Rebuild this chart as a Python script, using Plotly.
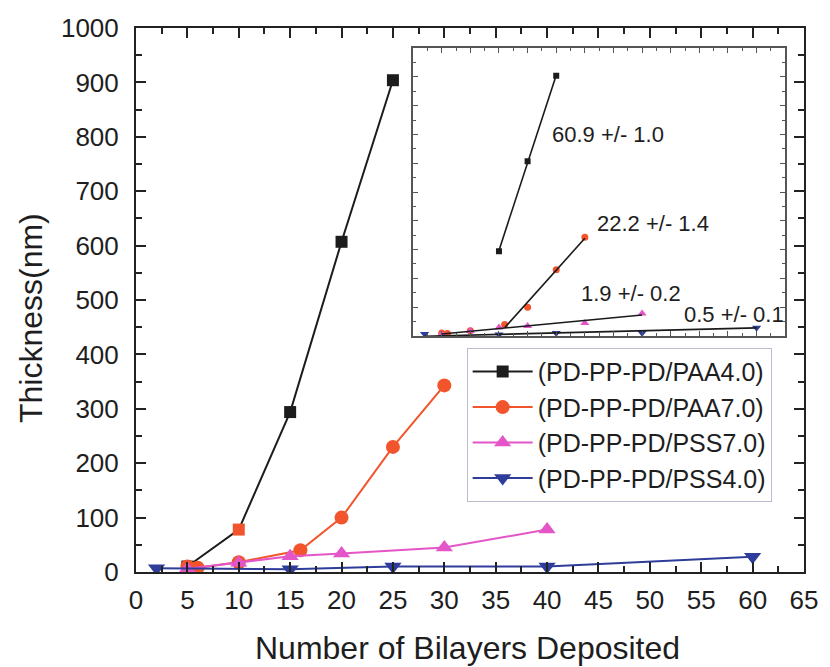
import numpy as np
import plotly.graph_objects as go

# Film thickness (nm) vs. number of bilayers deposited
bilayers_paa40 = [5, 10, 15, 20, 25]
thick_paa40 = [10, 78, 294, 607, 904]

bilayers_paa70 = [5, 6, 10, 16, 20, 25, 30]
thick_paa70 = [10, 8, 18, 40, 100, 230, 343]

bilayers_pss70 = [5, 10, 15, 20, 30, 40]
thick_pss70 = [6, 17, 29, 34, 45, 78]

bilayers_pss40 = [2, 15, 25, 40, 60]
thick_pss40 = [7, 5, 10, 10, 28]

series_names = ["(PD-PP-PD/PAA4.0)", "(PD-PP-PD/PAA7.0)",
                "(PD-PP-PD/PSS7.0)", "(PD-PP-PD/PSS4.0)"]

# Linear growth rates (nm per bilayer) and the bilayer range each fit covers
growth_rates = [60.9, 22.2, 1.9, 0.5]
growth_errors = [1.0, 1.4, 0.2, 0.1]
fit_from = [15, 16, 5, 2]
fit_to = [25, 30, 40, 60]
# first bilayer count shown in the inset for each series
inset_from = [15, 0, 0, 0]

xs = [bilayers_paa40, bilayers_paa70, bilayers_pss70, bilayers_pss40]
ys = [thick_paa40, thick_paa70, thick_pss70, thick_pss40]

colors = ["#1c1c1c", "#f2552c", "#e455c8", "#2e3c9a"]
symbols = ["square", "circle", "triangle-up", "triangle-down"]
main_sizes = [12, 14, 15, 15]
inset_sizes = [6, 7, 8, 8]

FONT = "Liberation Sans, Arial, sans-serif"
TXT = "#1e1e1e"

fig = go.Figure()

# Main panel
for i in range(4):
    mcol = colors[i]
    if i == 0:
        # the 10-bilayer point of this series is drawn in orange
        mcol = [colors[1] if b == 10 else colors[0] for b in xs[i]]
    fig.add_trace(go.Scatter(
        x=xs[i], y=ys[i], name=series_names[i], mode="lines+markers",
        line=dict(color=colors[i], width=2),
        marker=dict(symbol=symbols[i], size=main_sizes[i], color=mcol,
                    line=dict(width=0)),
        xaxis="x", yaxis="y", showlegend=True,
    ))

# Inset: the same data with linear fits
for i in range(4):
    px = [b for b in xs[i] if b >= inset_from[i]]
    py = [t for b, t in zip(xs[i], ys[i]) if b >= inset_from[i]]
    fig.add_trace(go.Scatter(
        x=px, y=py, mode="markers", showlegend=False,
        marker=dict(symbol=symbols[i], size=inset_sizes[i], color=colors[i],
                    line=dict(width=0)),
        xaxis="x2", yaxis="y2",
    ))

annot_pos = [(24.0, 701), (31.8, 389), (28.9, 149), (46.9, 76)]
annotations = []
for i in range(4):
    bx = np.array(xs[i], dtype=float)
    by = np.array(ys[i], dtype=float)
    sel = (bx >= fit_from[i]) & (bx <= fit_to[i])
    xm, ym = bx[sel].mean(), by[sel].mean()
    fx = np.array([fit_from[i], fit_to[i]], dtype=float)
    fy = ym + growth_rates[i] * (fx - xm)
    fig.add_trace(go.Scatter(
        x=fx, y=fy, mode="lines", showlegend=False,
        line=dict(color="#1a1a1a", width=1.6),
        xaxis="x2", yaxis="y2",
    ))
    ax, ay = annot_pos[i]
    annotations.append(dict(
        x=ax, y=ay, xref="x2", yref="y2", xanchor="left", yanchor="middle",
        text=f"{growth_rates[i]:.1f} +/- {growth_errors[i]:.1f}",
        showarrow=False, font=dict(family=FONT, size=22, color=TXT),
    ))

# Axis titles
annotations.append(dict(
    x=0.496, y=-0.14, xref="paper", yref="paper", xanchor="center",
    yanchor="middle", text="Number of Bilayers Deposited", showarrow=False,
    font=dict(family=FONT, size=32, color=TXT),
))
annotations.append(dict(
    x=-0.157, y=0.467, xref="paper", yref="paper", xanchor="center",
    yanchor="middle", text="Thickness(nm)", textangle=-90, showarrow=False,
    font=dict(family=FONT, size=32, color=TXT),
))

main_axis = dict(
    showline=True, linecolor="#222", linewidth=2, mirror="allticks",
    ticks="inside", ticklen=10, tickwidth=2, tickcolor="#222",
    showgrid=False, zeroline=False,
    tickfont=dict(family=FONT, size=26, color=TXT),
)
inset_axis = dict(
    showline=True, linecolor="#555", linewidth=1.5, mirror="allticks",
    ticks="inside", ticklen=5, tickwidth=1, tickcolor="#555",
    showgrid=False, zeroline=False, showticklabels=False,
)

fig.update_layout(
    width=830, height=667,
    margin=dict(l=136, r=19, t=28, b=95),
    paper_bgcolor="white", plot_bgcolor="white",
    font=dict(family=FONT, color=TXT),
    xaxis=dict(main_axis, range=[0, 65], dtick=5, tick0=0,
               minor=dict(ticks="inside", ticklen=6, dtick=2.5,
                          tickcolor="#222", tickwidth=2),
               ticklabelstandoff=4, domain=[0, 1]),
    yaxis=dict(main_axis, range=[0, 1000], dtick=100, tick0=0,
               minor=dict(ticks="inside", ticklen=6, dtick=50,
                          tickcolor="#222", tickwidth=2),
               ticklabelstandoff=10, domain=[0, 1]),
    xaxis2=dict(inset_axis, range=[0, 65], dtick=5,
                minor=dict(ticks="inside", ticklen=3, dtick=2.5,
                           tickcolor="#555"),
                domain=[0.4148, 0.9719], anchor="y2"),
    yaxis2=dict(inset_axis, range=[0, 1000], dtick=100,
                minor=dict(ticks="inside", ticklen=3, dtick=50,
                           tickcolor="#555"),
                domain=[0.434, 0.963], anchor="x2"),
    legend=dict(
        x=0.495, y=0.412, xanchor="left", yanchor="top",
        bgcolor="white", bordercolor="#b8bccc", borderwidth=1,
        font=dict(family=FONT, size=25, color=TXT),
        tracegroupgap=0, itemwidth=60,
    ),
    annotations=annotations,
    showlegend=True,
)

fig.write_html("out.html")
